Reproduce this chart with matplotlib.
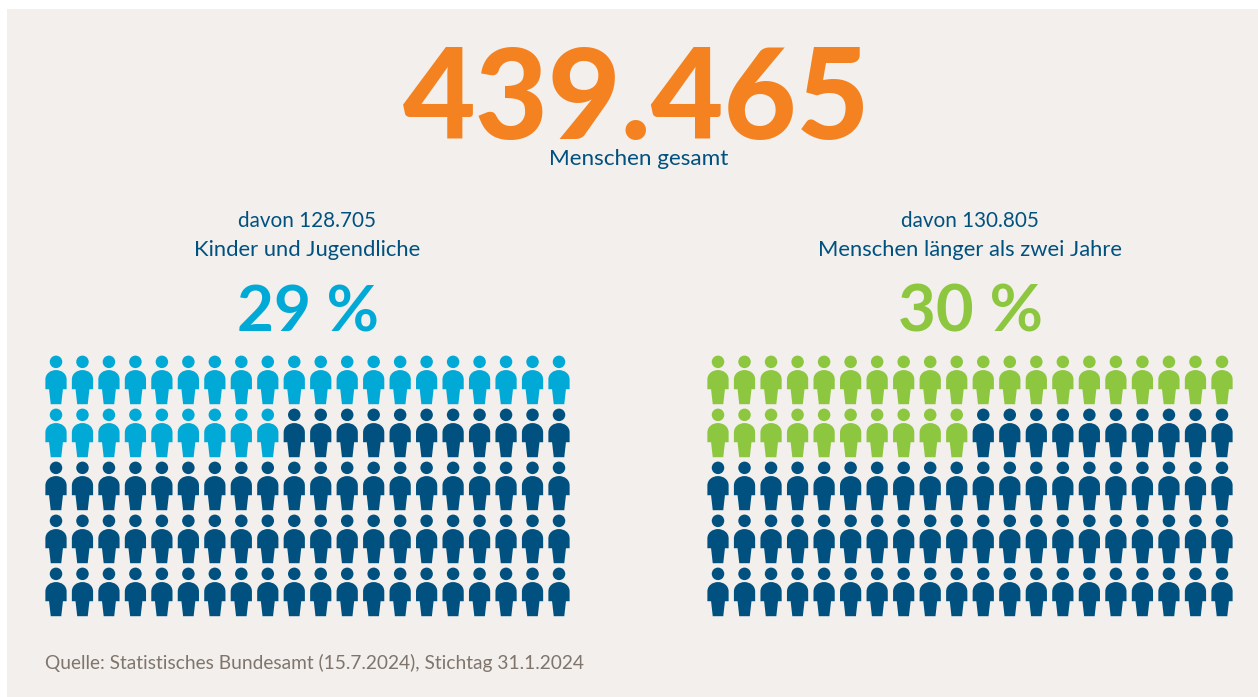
import numpy as np
import matplotlib.pyplot as plt
from matplotlib.patches import Rectangle
from matplotlib.path import Path

W, H = 1258, 697

total_label = '439.465'
total_caption = 'Menschen gesamt'
group_lines = [['davon 128.705', 'Kinder und Jugendliche'],
               ['davon 130.805', 'Menschen länger als zwei Jahre']]
group_pct = [29, 30]
group_colors = ['#00A9D6', '#8DC63F']
source = 'Quelle: Statistisches Bundesamt (15.7.2024), Stichtag 31.1.2024'
n_cols = 20
n_rows = 5

bg = '#F2EFEC'
navy = '#00517F'
orange = '#F58220'
grey = '#7F756C'

plt.rcParams['font.family'] = ['Lato', 'DejaVu Sans']


def person_marker():
    # little figure, units are pixels around the middle of the figure
    head = Path.circle((0, 18.3), 6.3)
    verts = [(-10.7, -9.3), (-10.7, 0.5), (-10.7, 6.5), (-5.5, 10.0), (0, 10.0),
             (5.5, 10.0), (10.7, 6.5), (10.7, 0.5), (10.7, -9.3), (7.0, -9.3),
             (5.3, -24.4), (-5.3, -24.4), (-7.0, -9.3), (-10.7, -9.3)]
    codes = [Path.MOVETO, Path.LINETO, Path.CURVE4, Path.CURVE4, Path.CURVE4,
             Path.CURVE4, Path.CURVE4, Path.CURVE4, Path.LINETO, Path.LINETO,
             Path.LINETO, Path.LINETO, Path.LINETO, Path.CLOSEPOLY]
    return Path.make_compound_path(head, Path(verts, codes))


def text_px(x, y, s, **kw):
    fig.text(x / W, 1 - y / H, s, ha=kw.pop('ha', 'center'), va='baseline', **kw)


fig = plt.figure(figsize=(W / 100, H / 100), dpi=100, facecolor='white')
fig.add_artist(Rectangle((7 / W, 0), 1 - 7 / W, 1 - 9 / H, transform=fig.transFigure,
                         facecolor=bg, edgecolor='none', zorder=-1))

text_px(637, 139, total_label, color=orange, fontsize=90.5, fontweight='black')
text_px(639, 165, total_caption, color=navy, fontsize=16.2)

marker = person_marker()
marker_size = 48.8 * 72 / 100
for g, (left, right) in enumerate([(56, 559), (718, 1222)]):
    mid = (left + right) / 2
    text_px(mid, 227, group_lines[g][0], color=navy, fontsize=14.9)
    text_px(mid, 256, group_lines[g][1], color=navy, fontsize=15.8)
    text_px(mid + 0.5, 331, f'{group_pct[g]} %', color=group_colors[g],
            fontsize=46 + g, fontweight='bold')

    step = (right - left) / (n_cols - 1)
    ax = fig.add_axes([(left - step / 2) / W, 1 - (380 + 4.5 * 53) / H,
                       n_cols * step / W, n_rows * 53 / H])
    ax.set_xlim(-0.5, n_cols - 0.5)
    ax.set_ylim(n_rows - 0.5, -0.5)
    ax.axis('off')
    rows, cols = np.divmod(np.arange(n_cols * n_rows), n_cols)
    colors = [group_colors[g] if i < group_pct[g] else navy for i in range(n_cols * n_rows)]
    ax.scatter(cols, rows, s=marker_size ** 2, marker=marker, c=colors, linewidths=0, clip_on=False)

text_px(45, 669, source, ha='left', color=grey, fontsize=13.75)

fig.savefig('out.png', dpi=100)
